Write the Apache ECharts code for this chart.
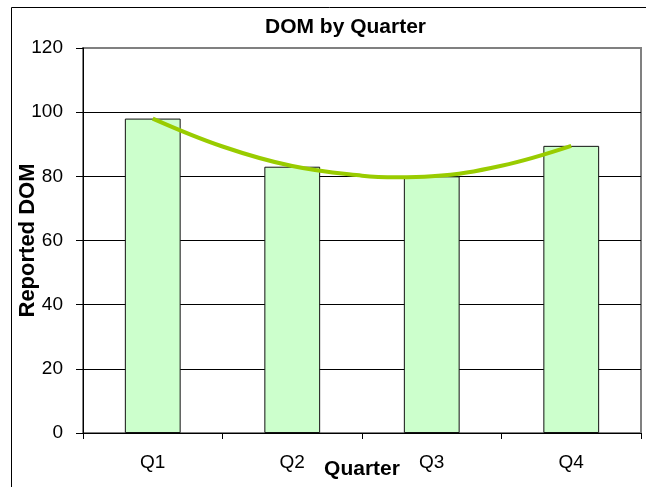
<!DOCTYPE html>
<html>
<head>
<meta charset="utf-8">
<script src="https://cdn.jsdelivr.net/npm/echarts@6/dist/echarts.min.js"></script>
<style>
html,body{margin:0;padding:0;background:#fff;}
#chart{width:646px;height:487px;}
</style>
</head>
<body>
<div id="chart"></div>
<script>
// Data
var categories = ['Q1', 'Q2', 'Q3', 'Q4'];
var domValues = [98, 83, 80, 89.5];
// Polynomial trend line at category positions (1 = Q1 ... 4 = Q4)
var trendX = [1, 1.5, 2, 2.5, 2.75, 3, 3.5, 4];
var trendY = [98, 89.3, 83.2, 80.2, 79.7, 80, 83.3, 89.5];
var titleText = 'DOM by Quarter';
var xName = 'Quarter';
var yName = 'Reported DOM';

var FONT = '"Liberation Sans", Arial, sans-serif';
var trendData = trendX.map(function (x, i) { return [x, trendY[i]]; });

var chart = echarts.init(document.getElementById('chart'), null, { renderer: 'canvas' });
chart.setOption({
  animation: false,
  backgroundColor: '#fff',
  title: {
    text: titleText,
    left: 265,
    top: 17,
    padding: 0,
    textStyle: { fontFamily: FONT, fontWeight: 'bold', fontSize: 21, color: '#000' }
  },
  graphic: [{
    type: 'rect',
    shape: { x: 11.5, y: 7.5, width: 700, height: 600 },
    style: { fill: 'none', stroke: '#000', lineWidth: 1 },
    silent: true
  }],
  grid: {
    left: 83, top: 48, width: 558, bottom: 54,
    show: true, borderColor: '#808080', borderWidth: 2, backgroundColor: 'transparent'
  },
  xAxis: [{
    type: 'category',
    data: categories,
    boundaryGap: true,
    name: xName,
    nameLocation: 'middle',
    nameGap: 26,
    nameMoveOverlap: false,
    nameTextStyle: { fontFamily: FONT, fontWeight: 'bold', fontSize: 21, color: '#000' },
    axisLine: { lineStyle: { color: '#000', width: 1 } },
    axisTick: { show: true, length: 6, inside: false, alignWithLabel: false, lineStyle: { color: '#000' } },
    axisLabel: { fontFamily: FONT, fontSize: 19, color: '#000', margin: 20 },
    splitLine: { show: false }
  }, {
    type: 'value',
    min: 0.5,
    max: 4.5,
    show: false
  }],
  yAxis: {
    type: 'value',
    min: 0,
    max: 120,
    interval: 20,
    name: yName,
    nameLocation: 'middle',
    nameGap: 44,
    nameMoveOverlap: false,
    nameTextStyle: { fontFamily: FONT, fontWeight: 'bold', fontSize: 22, color: '#000' },
    axisLine: { show: true, lineStyle: { color: '#000', width: 1 } },
    axisTick: { show: true, length: 7, lineStyle: { color: '#000' } },
    axisLabel: { fontFamily: FONT, fontSize: 19, color: '#000', margin: 20 },
    splitLine: { show: true, showMaxLine: false, lineStyle: { color: '#000', width: 1 } }
  },
  series: [{
    type: 'bar',
    xAxisIndex: 0,
    data: domValues,
    barWidth: '40%',
    itemStyle: { color: '#CCFFCC', borderColor: '#111', borderWidth: 1 },
    z: 2
  }, {
    type: 'line',
    xAxisIndex: 1,
    data: trendData,
    smooth: 0.4,
    symbol: 'none',
    lineStyle: { color: '#99CC00', width: 4 },
    z: 5
  }]
});
</script>
</body>
</html>
